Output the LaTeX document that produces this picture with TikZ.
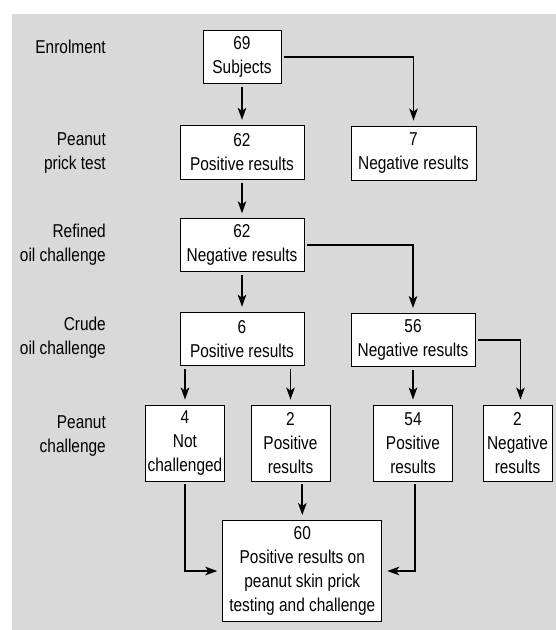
\documentclass[tikz,border=0pt]{standalone}
\usepackage{fontspec}
\setmainfont{Liberation Sans}[FakeStretch=0.83]
\usepackage{tikz}
\usetikzlibrary{arrows.meta}
\definecolor{bggray}{RGB}{217,217,217}
\tikzset{>={Stealth[length=12pt, width=8.5pt, inset=3pt]}}
\tikzset{box/.style={draw, line width=0.9pt, fill=white, align=center, inner sep=2pt}}
\tikzset{lab/.style={anchor=east, align=right, inner sep=0pt}}
\tikzset{link/.style={line width=1.8pt, ->, shorten <=3pt, shorten >=5pt}}

\begin{document}
\begin{tikzpicture}[x=1pt, y=-1pt, font=\fontsize{18.6}{24}\selectfont]
    \useasboundingbox(0, 0)rectangle(556, 630);
    \fill[bggray](12.4, 13.5)rectangle(556, 630);
    % stage labels
    \node[lab](enrol)at(106, 47){Enrolment};
    \node[lab](prick)at(106, 153){Peanut\\prick test};
    \node[lab](refined)at(106, 245){Refined\\oil challenge};
    \node[lab](crude)at(106, 338){Crude\\oil challenge};
    \node[lab](chall)at(106, 436){Peanut\\challenge};
    % boxes
    \node[box, minimum width=78, minimum height=53](sub)at(242, 57.3){69\\Subjects};
    \node[box, minimum width=124, minimum height=54](ppos)at(242, 152.3){62\\Positive results};
    \node[box, minimum width=125, minimum height=54](pneg)at(413.5, 153){7\\Negative results};
    \node[box, minimum width=124, minimum height=53](rneg)at(242, 245.3){62\\Negative results};
    \node[box, minimum width=124, minimum height=53](cpos)at(242, 338.7){6\\Positive results};
    \node[box, minimum width=124, minimum height=53](cneg)at(413, 340){56\\Negative results};
    \node[box, minimum width=79, minimum height=76](nc)at(185, 443){4\\Not\\challenged};
    \node[box, minimum width=79, minimum height=76](gpos)at(290.5, 443){2\\Positive\\results};
    \node[box, minimum width=79, minimum height=76](opos)at(413, 443){54\\Positive\\results};
    \node[box, minimum width=69, minimum height=76](gneg)at(517.5, 443){2\\Negative\\results};
    \node[box, minimum width=159, minimum height=101](tot)at(302.3, 571){60\\Positive results on\\peanut skin prick\\testing and challenge};
    % connectors
    \draw[link](sub)--(ppos);
    \draw[link](sub.east)-|(pneg.north);
    \draw[link](ppos)--(rneg);
    \draw[link](rneg.east)-|(cneg.north);
    \draw[link](rneg)--(cpos);
    \draw[link](cpos.south-|nc.north)--(nc.north);
    \draw[link](cpos.south-|gpos.north)--(gpos.north);
    \draw[link](cneg)--(opos);
    \draw[link](cneg.east)-|([xshift=3]gneg.north);
    \draw[link](gpos.south-|tot.north)--(tot.north);
    \draw[link](nc.south)|-(tot.west);
    \draw[link]([xshift=2]opos.south)|-(tot.east);
\end{tikzpicture}
\end{document}
